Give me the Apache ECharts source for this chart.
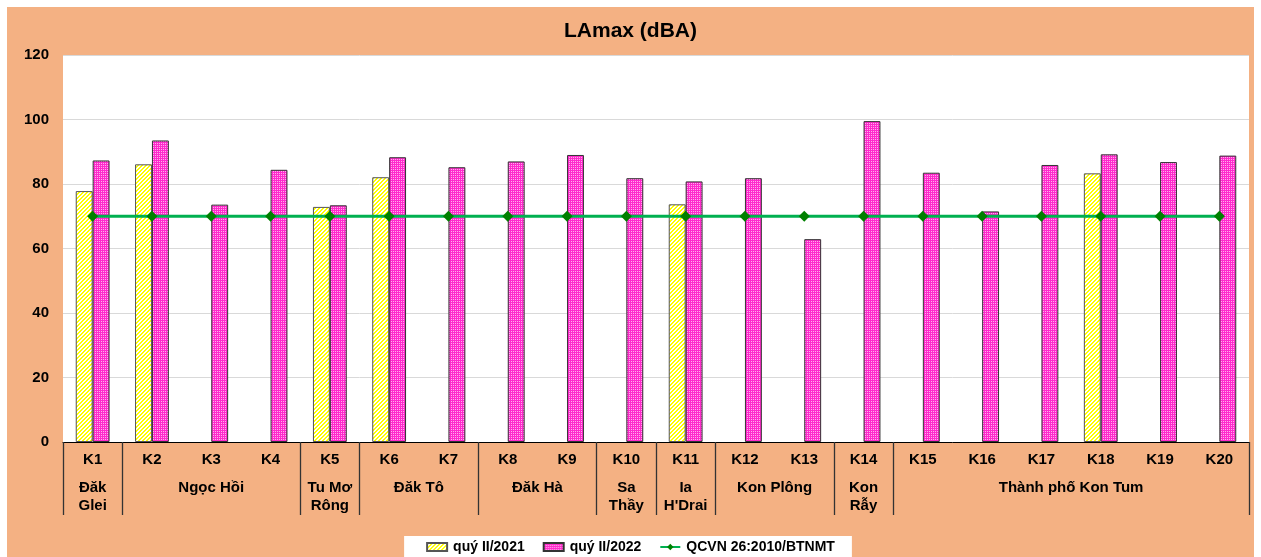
<!DOCTYPE html>
<html>
<head>
<meta charset="utf-8">
<script src="https://cdn.jsdelivr.net/npm/echarts@6/dist/echarts.min.js"></script>
<style>
html,body{margin:0;padding:0;background:#ffffff;width:1261px;height:557px;overflow:hidden;}
#chart{position:absolute;left:7px;top:7px;width:1247px;height:550px;background:#F4B183;}
</style>
</head>
<body>
<div id="chart"></div>
<script>
// ---- data ----
const categories = ['K1','K2','K3','K4','K5','K6','K7','K8','K9','K10','K11','K12','K13','K14','K15','K16','K17','K18','K19','K20'];
const q2021 = [77.8, 86.1, null, null, 72.9, 82.1, null, null, null, null, 73.7, null, null, null, null, null, null, 83.3, null, null];
const q2022 = [87.3, 93.5, 73.6, 84.4, 73.4, 88.3, 85.2, 87.0, 89.0, 81.8, 80.8, 81.8, 62.9, 99.5, 83.5, 71.5, 85.9, 89.2, 86.8, 88.8];
const qcvn  = [70, 70, 70, 70, 70, 70, 70, 70, 70, 70, 70, 70, 70, 70, 70, 70, 70, 70, 70, 70];
const groupNames = ['Đăk\nGlei', 'Ngọc Hồi', 'Tu Mơ\nRông', 'Đăk Tô', 'Đăk Hà', 'Sa\nThầy', 'Ia\nH\'Drai', 'Kon Plông', 'Kon\nRẫy', 'Thành phố Kon Tum'];
const groupSizes = [1, 3, 1, 2, 2, 1, 1, 2, 1, 6];
const yTicks = [0, 20, 40, 60, 80, 100, 120];
const seriesNames = ['quý II/2021', 'quý II/2022', 'QCVN 26:2010/BTNMT'];

// ---- group axis (half-category points) ----
const nHalf = categories.length * 2;
const groupAxisData = new Array(nHalf + 1).fill('');
const boundaryIdx = new Set([0]);
let pos = 0;
groupSizes.forEach((s, i) => {
  groupAxisData[pos * 2 + s] = groupNames[i];
  pos += s;
  boundaryIdx.add(pos * 2);
});

// ---- patterns ----
function hatch() {
  const c = document.createElement('canvas');
  c.width = 4; c.height = 4;
  const ctx = c.getContext('2d');
  ctx.fillStyle = '#ffffff'; ctx.fillRect(0, 0, 4, 4);
  ctx.fillStyle = '#FFFF00';
  for (let x = 0; x < 4; x++) for (let y = 0; y < 4; y++) {
    if ((x + y) % 4 < 2) ctx.fillRect(x, y, 1, 1);
  }
  return c;
}
function dots() {
  const c = document.createElement('canvas');
  c.width = 2; c.height = 2;
  const ctx = c.getContext('2d');
  ctx.fillStyle = '#FF2ACC'; ctx.fillRect(0, 0, 2, 2);
  ctx.fillStyle = '#FFB0EE'; ctx.fillRect(0, 0, 1, 1);
  return c;
}
const yellowPat = { image: hatch(), repeat: 'repeat' };
const pinkPat = { image: dots(), repeat: 'repeat' };

const font = '"Liberation Sans", Arial, sans-serif';
const chart = echarts.init(document.getElementById('chart'), null, { renderer: 'canvas' });
chart.setOption({
  animation: false,
  textStyle: { fontFamily: font },
  title: {
    text: 'LAmax (dBA)', left: 'center', top: 9,
    textStyle: { fontFamily: font, fontSize: 21, fontWeight: 'bold', color: '#000' }
  },
  grid: {
    left: 56, right: 5, top: 48, bottom: 115,
    show: true, backgroundColor: '#ffffff', borderWidth: 0
  },
  legend: {
    data: [
      { name: seriesNames[0], icon: 'rect' },
      { name: seriesNames[1], icon: 'rect' },
      { name: seriesNames[2] }
    ],
    left: 'center', bottom: 0,
    backgroundColor: '#ffffff',
    padding: [4, 17, 3, 22],
    itemGap: 18, itemWidth: 20, itemHeight: 8,
    textStyle: { fontFamily: font, fontSize: 14, fontWeight: 'bold', color: '#000', padding: [0, 0, 0, 1] }
  },
  xAxis: [
    {
      type: 'category', data: categories, position: 'bottom',
      axisLine: { show: true, lineStyle: { color: '#000', width: 1 } },
      axisTick: { show: false },
      axisLabel: { fontFamily: font, fontSize: 15, fontWeight: 'bold', color: '#000', margin: 10, interval: 0 },
      splitLine: { show: false }
    },
    {
      type: 'category', data: groupAxisData, position: 'bottom', boundaryGap: false,
      axisLine: { show: false },
      axisTick: { show: true, length: 73, lineStyle: { color: '#333', width: 1.3 },
        interval: function (i) { return boundaryIdx.has(i); } },
      axisLabel: { fontFamily: font, fontSize: 15, fontWeight: 'bold', color: '#000', margin: 37,
        lineHeight: 18, verticalAlign: 'top', align: 'center',
        interval: function (i, v) { return v !== ''; } },
      splitLine: { show: false }
    }
  ],
  yAxis: {
    type: 'value', min: yTicks[0], max: yTicks[yTicks.length - 1], interval: 20,
    axisLine: { show: false }, axisTick: { show: false },
    axisLabel: { fontFamily: font, fontSize: 15, fontWeight: 'bold', color: '#000', margin: 14 },
    splitLine: { show: true, lineStyle: { color: '#D9D9D9', width: 1 } }
  },
  series: [
    {
      name: seriesNames[0], type: 'bar', data: q2021, xAxisIndex: 0,
      barGap: '0%', barCategoryGap: '43%',
      itemStyle: { color: yellowPat, borderColor: '#555', borderWidth: 1 }
    },
    {
      name: seriesNames[1], type: 'bar', data: q2022, xAxisIndex: 0,
      barGap: '0%', barCategoryGap: '43%',
      itemStyle: { color: pinkPat, borderColor: '#333', borderWidth: 1 }
    },
    {
      name: seriesNames[2], type: 'line', data: qcvn, xAxisIndex: 0,
      symbol: 'diamond', symbolSize: 11, z: 5,
      lineStyle: { color: '#00B050', width: 3 },
      itemStyle: { color: '#008000' }
    }
  ]
});
</script>
</body>
</html>
